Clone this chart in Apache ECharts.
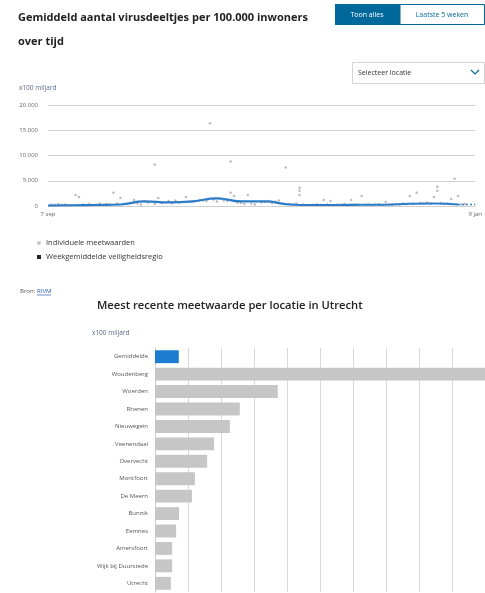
<!DOCTYPE html>
<html><head><meta charset="utf-8">
<script src="https://cdn.jsdelivr.net/npm/echarts@6/dist/echarts.min.js"></script>
<style>html,body{margin:0;padding:0;background:#fff}#c{width:485px;height:593px}</style>
</head><body><div id="c"></div>
<script>
// ---- time chart data (day offset from 7 sep 2020) ----
const axisEndLabels = ['7 sep', '9 jan'];
const yTicks = [0, 5000, 10000, 15000, 20000];
const weekDays = [0, 7, 14, 21, 28, 35, 42, 49, 56, 63, 70, 77, 84, 91, 98, 105, 112, 119];
const weekAvg  = [100, 150, 200, 300, 900, 700, 900, 1500, 900, 900, 300, 200, 200, 250, 250, 450, 500, 300];
const forecastDays = [119, 124];
const forecastAvg  = [300, 300];
const measureDays = [1,2,3,4,5,6,8,9,10,11,12,14,15,16,17,18,19,20,21,22,24,25,26,27,28,29,31,31,32,33,35,36,37,38,40,41,42,44,45,46,47,48,49,50,51,52,53,53,54,55,56,57,58,59,60,62,63,64,65,66,67,69,70,71,72,73,73,73,74,75,77,78,79,80,81,82,83,84,85,86,87,88,89,90,91,92,93,94,95,96,97,98,99,100,101,102,103,104,105,106,107,108,109,110,111,112,113,113,114,115,116,117,118,119,120,121];
const measureVals = [300,200,400,250,300,150,2200,1800,300,200,400,300,500,200,400,300,2600,500,1600,400,600,1200,500,300,900,700,8200,400,1600,600,1000,500,1100,700,1800,800,900,1200,1100,1000,16400,1300,900,1500,1100,1000,8800,2600,2000,700,600,400,2200,500,300,700,800,1000,600,900,1100,7600,400,300,500,3600,3000,2200,300,200,250,350,200,1200,300,1000,200,300,250,400,150,1200,300,250,2000,200,300,150,250,350,200,800,300,250,400,300,500,350,2000,400,2600,600,500,700,450,1800,3800,3000,600,400,500,1400,5400,2000,300,400];

// ---- bar chart data ----
const locations = ['Gemiddelde','Woudenberg','Woerden','Rhenen','Nieuwegein','Veenendaal','Overvecht','Montfoort','De Meern','Bunnik','Eemnes','Amersfoort','Wijk bij Duurstede','Utrecht'];
const recentVals = [72, 1150, 372, 257, 227, 179, 158, 121, 112, 73, 64, 52, 52, 48];

const FONT = '"Open Sans", "Noto Sans", sans-serif';
const chart = echarts.init(document.getElementById('c'), null, {renderer: 'canvas'});

const fmtNL = v => String(v).replace(/\B(?=(\d{3})+(?!\d))/g, '.');

const scatterData = measureDays.map((d, i) => [d, measureVals[i]]);
const lineData = weekDays.map((d, i) => [d, weekAvg[i]]);
const fcData = forecastDays.map((d, i) => [d, forecastAvg[i]]);

chart.setOption({
  animation: false,
  textStyle: {fontFamily: FONT},
  title: [
    {text: 'Gemiddeld aantal virusdeeltjes per 100.000 inwoners\nover tijd', left: 13, top: 1,
     textStyle: {fontSize: 11, fontWeight: 'bold', color: '#222', lineHeight: 24, fontFamily: FONT}},
    {text: 'Meest recente meetwaarde per locatie in Utrecht', left: 92, top: 295,
     textStyle: {fontSize: 11.2, fontWeight: 600, color: '#222', fontFamily: FONT}}
  ],
  legend: {
    orient: 'vertical', left: 32, top: 234, itemGap: 6, itemWidth: 4, itemHeight: 4,
    textStyle: {fontSize: 7.5, color: '#333', fontFamily: FONT},
    data: [
      {name: 'Individuele meetwaarden', icon: 'circle', itemStyle: {color: '#bbb'}},
      {name: 'Weekgemiddelde veiligheidsregio', icon: 'rect', itemStyle: {color: '#222'}}
    ]
  },
  grid: [
    {left: 48, right: 5, top: 105, height: 101, containLabel: false},
    {left: 155, right: 0, top: 348, bottom: 1, containLabel: false}
  ],
  xAxis: [
    {gridIndex: 0, type: 'value', min: 0, max: 124, interval: 124,
     axisLine: {show: false}, axisTick: {show: false}, splitLine: {show: false},
     axisLabel: {fontSize: 6, color: '#666', margin: 5,
       formatter: v => v === 0 ? axisEndLabels[0] : (v === 124 ? axisEndLabels[1] : '')}},
    {gridIndex: 1, type: 'value', min: 0, max: 1000, interval: 100,
     axisLine: {show: false}, axisTick: {show: false}, axisLabel: {show: false},
     splitLine: {show: true, lineStyle: {color: '#d8d8d8', width: 1}}}
  ],
  yAxis: [
    {gridIndex: 0, type: 'value', min: yTicks[0], max: yTicks[yTicks.length - 1], interval: 5000,
     axisLine: {show: false}, axisTick: {show: false},
     axisLabel: {fontSize: 6, color: '#666', margin: 10, formatter: v => fmtNL(v)},
     splitLine: {lineStyle: {color: '#cfcfcf', width: 1}}},
    {gridIndex: 1, type: 'category', data: locations, inverse: true,
     axisLine: {show: true, lineStyle: {color: '#d0d0d0'}}, axisTick: {show: false},
     axisLabel: {fontSize: 6, color: '#555', margin: 7}}
  ],
  series: [
    {name: 'Individuele meetwaarden', type: 'scatter', xAxisIndex: 0, yAxisIndex: 0,
     data: scatterData, symbolSize: 2.5, itemStyle: {color: '#aaa'}},
    {name: 'Weekgemiddelde veiligheidsregio', type: 'line', xAxisIndex: 0, yAxisIndex: 0,
     data: lineData, smooth: true, showSymbol: false, lineStyle: {color: '#2a7cc7', width: 2.2}, itemStyle: {color: '#2a7cc7'}},
    {name: 'verwachting', type: 'line', xAxisIndex: 0, yAxisIndex: 0,
     data: fcData, showSymbol: false, lineStyle: {color: '#2a7cc7', width: 1.5, type: [2, 2]}},
    {name: 'Meest recent', type: 'bar', xAxisIndex: 1, yAxisIndex: 1, clip: true,
     barCategoryGap: '26%',
     data: recentVals.map((v, i) => ({value: v, itemStyle: {color: i === 0 ? '#1b7cd0' : '#c6c6c6'}}))}
  ],
  graphic: [
    {type: 'rect', shape: {x: 335, y: 4, width: 65, height: 21}, style: {fill: '#01689b'}},
    {type: 'text', x: 367, y: 14.5, style: {text: 'Toon alles', fill: '#fff', fontSize: 7, fontFamily: FONT, align: 'center', verticalAlign: 'middle'}},
    {type: 'rect', shape: {x: 400, y: 4.5, width: 84.5, height: 20}, style: {fill: '#fff', stroke: '#01689b', lineWidth: 1}},
    {type: 'text', x: 442, y: 14.5, style: {text: 'Laatste 5 weken', fill: '#01689b', fontSize: 7, fontFamily: FONT, align: 'center', verticalAlign: 'middle'}},
    {type: 'rect', shape: {x: 352.5, y: 62.5, width: 132, height: 21}, style: {fill: '#fff', stroke: '#d4d4d4', lineWidth: 1}},
    {type: 'text', x: 358, y: 73, style: {text: 'Selecteer locatie', fill: '#333', fontSize: 7, fontFamily: FONT, verticalAlign: 'middle'}},
    {type: 'polyline', shape: {points: [[471, 70], [475, 74], [479, 70]]}, style: {stroke: '#01689b', lineWidth: 1.2, fill: null}},
    {type: 'text', x: 19, y: 88, style: {text: 'x100 miljard', fill: '#5a6a85', fontSize: 6.5, fontFamily: FONT, verticalAlign: 'middle'}},
    {type: 'text', x: 20, y: 291, style: {text: 'Bron: ', fill: '#555', fontSize: 6, fontFamily: FONT, verticalAlign: 'middle'}},
    {type: 'text', x: 37, y: 291, style: {text: 'RIVM', fill: '#2a5db0', fontSize: 6, fontFamily: FONT, verticalAlign: 'middle'}},
    {type: 'line', shape: {x1: 37, y1: 295, x2: 51, y2: 295}, style: {stroke: '#2a5db0', lineWidth: 0.7}},
    {type: 'text', x: 92, y: 333, style: {text: 'x100 miljard', fill: '#5a6a85', fontSize: 6.5, fontFamily: FONT, verticalAlign: 'middle'}}
  ]
});
</script></body></html>
